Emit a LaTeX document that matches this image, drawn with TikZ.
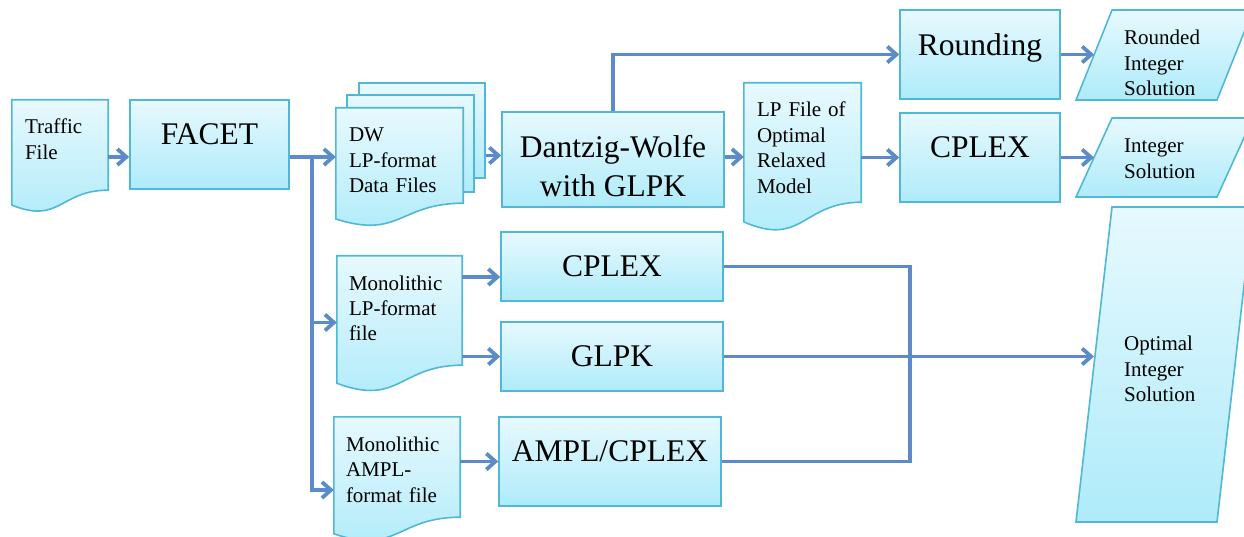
\documentclass[tikz,border=0pt]{standalone}
\usepackage{fontspec}
\setmainfont{Liberation Serif}
\usetikzlibrary{arrows.meta,calc,backgrounds}

\definecolor{edgecyan}{RGB}{80,184,214}
\definecolor{filltop}{RGB}{231,249,254}
\definecolor{fillbot}{RGB}{174,235,250}
\definecolor{flowblue}{RGB}{91,139,200}

\newcommand{\bigfont}{\fontsize{31.5}{39}\selectfont}
\newcommand{\smallfont}{\fontsize{21}{25.5}\selectfont}

\tikzset{
  shapefill/.style={draw=edgecyan, line width=1.6pt, top color=filltop, bottom color=fillbot},
  procbox/.style={shapefill, rectangle, font=\bigfont, align=center},
  topheavy/.style={text depth=20pt},
  docnode/.style={rectangle, inner xsep=13pt, inner ysep=0pt, text height=34pt, font=\smallfont, align=left},
  iotext/.style={anchor=west, inner sep=0pt, font=\smallfont, align=left},
  flow/.style={draw=flowblue, line width=3.8pt, -{Straight Barb[length=9pt,width=16pt]}},
  link/.style={draw=flowblue, line width=3.8pt}
}

% document symbol with a wavy bottom edge, drawn behind the node
\newcommand{\docshape}[1]{%
  \begin{pgfonlayer}{background}
    \path[shapefill] let \p1 = ($(#1.north)-(#1.south)$) in
      (#1.north west) -- (#1.north east) -- (#1.south east)
      .. controls (#1.south) and ($(#1.south)+(0pt,-0.38*\y1)$)
      .. ($(#1.south west)+(0pt,-0.165*\y1)$) -- cycle;
  \end{pgfonlayer}}

\begin{document}
\begin{tikzpicture}[x=1pt,y=-1pt]
  \useasboundingbox (0,0) rectangle (1244,537);

  % Files
  \node[docnode, text width=70pt, text depth=56pt, minimum height=90pt] (traffic) at (60,145) {Traffic\\File};
  \docshape{traffic}

  \node[docnode, text width=101pt, text depth=61pt, minimum height=95pt] (dwfile) at (399.5,155.5) {DW\\LP-format\\Data Files};
  \begin{pgfonlayer}{background}
    \node[shapefill, minimum width=126pt, minimum height=95pt] (dwpage2) at (422,130.5) {};
    \node[shapefill, minimum width=127pt, minimum height=97pt] (dwpage1) at (410.5,143.5) {};
  \end{pgfonlayer}
  \docshape{dwfile}

  \node[docnode, text width=91pt, text depth=85pt, minimum height=119pt] (lpfile) at (802.5,142.5) {LP File of\\Optimal\\Relaxed\\Model};
  \docshape{lpfile}

  \node[docnode, text width=101pt, text depth=75pt, inner xsep=12pt, minimum height=109pt] (mlp) at (399.5,310.5) {Monolithic\\LP-format\\file};
  \docshape{mlp}

  \node[docnode, text width=102pt, text depth=66pt, inner xsep=12pt, minimum height=100pt] (mampl) at (397,467) {Monolithic\\AMPL-\\format file};
  \docshape{mampl}

  % Solvers
  \node[procbox, topheavy, minimum width=159pt, minimum height=89pt] (facet) at (209.5,144.5) {FACET};
  \node[procbox, text height=75pt, minimum width=222pt, minimum height=95pt] (dw) at (613,159.5) {Dantzig-Wolfe\\with GLPK};
  \node[procbox, topheavy, minimum width=160pt, minimum height=89pt] (round) at (980,54.5) {Rounding};
  \node[procbox, topheavy, minimum width=160pt, minimum height=89pt] (cplexA) at (980,157.5) {CPLEX};
  \node[procbox, minimum width=222pt, minimum height=69pt] (cplexB) at (612,266.5) {CPLEX};
  \node[procbox, minimum width=222pt, minimum height=69pt] (glpk) at (612,356.5) {GLPK};
  \node[procbox, topheavy, minimum width=222pt, minimum height=89pt] (ampl) at (610,461.5) {AMPL/CPLEX};

  % Solutions
  \path[shapefill] (1076,100) -- (1112,10) -- (1253,10) -- (1217,100) -- cycle;
  \node[iotext] (rint) at (1124,63) {Rounded\\Integer\\Solution};
  \path[shapefill] (1076,197) -- (1112,118) -- (1253,118) -- (1217,197) -- cycle;
  \node[iotext] (isol) at (1124,158.5) {Integer\\Solution};
  \path[shapefill] (1076,522) -- (1112,207) -- (1253,207) -- (1217,522) -- cycle;
  \node[iotext] (osol) at (1124,369) {Optimal\\Integer\\Solution};
  \coordinate (rint-in) at (1094,54.5);
  \coordinate (isol-in) at (1094,157.5);
  \coordinate (osol-in) at (1094,356.5);

  % Connectors
  \coordinate (split) at (312,157);
  \coordinate (merge) at (910,356.5);
  \draw[flow] ([yshift=-12pt]traffic.east) -- ([yshift=-12pt]traffic.east -| facet.west);
  \draw[flow] ([yshift=-12.5pt]facet.east) -- ([yshift=-12.5pt]facet.east -| dwfile.west);
  \draw[flow] (split) |- ([yshift=-12pt]mlp.west);
  \draw[flow] (split) |- ([yshift=-23pt]mampl.west);
  \draw[flow] (dwfile.east -| dwpage2.east) -- (dwfile.east -| dw.west);
  \draw[flow] (dw.north) |- (round.west);
  \draw[flow] ([yshift=2.5pt]dw.east) -- ([yshift=2.5pt]dw.east -| lpfile.west);
  \draw[flow] (cplexA.west -| lpfile.east) -- (cplexA.west);
  \draw[flow] (round.east) -- (rint-in);
  \draw[flow] (cplexA.east) -- (isol-in);
  \draw[flow] ([yshift=-10.5pt]cplexB.west -| mlp.east) -- ([yshift=-10.5pt]cplexB.west);
  \draw[flow] (glpk.west -| mlp.east) -- (glpk.west);
  \draw[flow] (ampl.west -| mampl.east) -- (ampl.west);
  \draw[link] (cplexB.east) -| (merge) |- (ampl.east);
  \draw[flow] (glpk.east) -- (osol-in);
\end{tikzpicture}
\end{document}
